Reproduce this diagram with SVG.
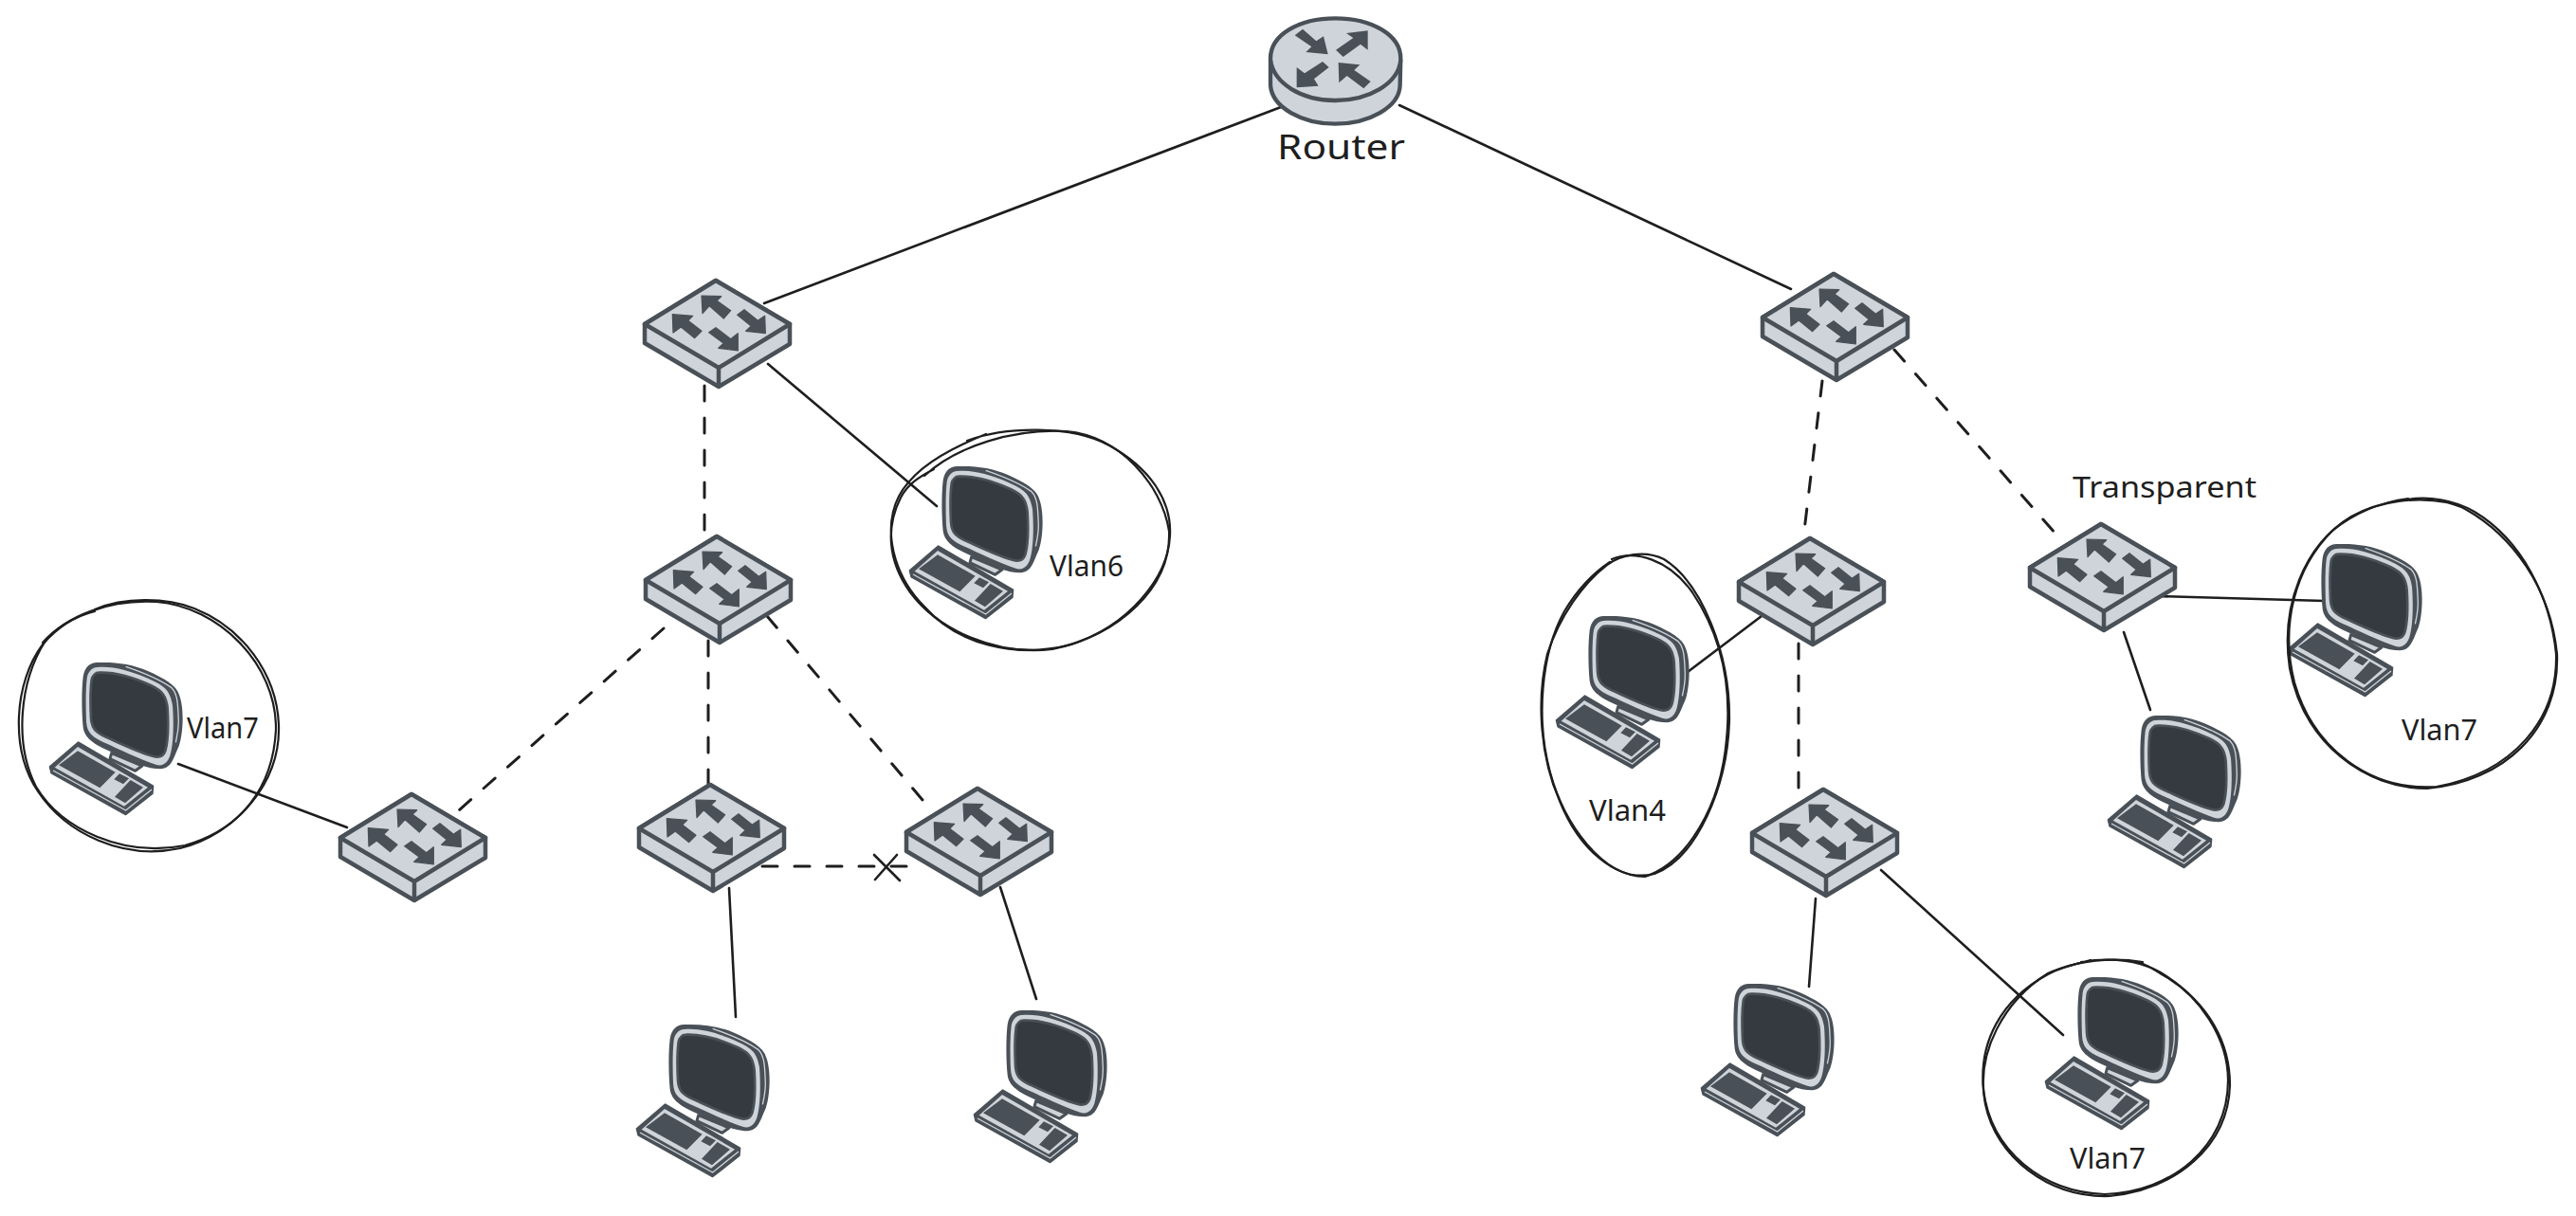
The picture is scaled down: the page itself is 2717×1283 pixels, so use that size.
<svg xmlns="http://www.w3.org/2000/svg" width="2717" height="1283" viewBox="0 0 2717 1283">
<style>
.ln{fill:none;stroke:#1e1e1e;stroke-width:2.6;stroke-linecap:round}
.da{stroke-width:3;stroke-dasharray:16 18}
.sk{fill:none;stroke:#1e1e1e;stroke-width:2.2;stroke-linecap:round}
.lb{font-family:"Noto Sans","Liberation Sans",sans-serif;fill:#1e1e1e;font-size:30px}
.bd{fill:#ced4da;stroke:#495057;stroke-width:4.5;stroke-linejoin:round}
.ar{fill:#495057;stroke:#495057;stroke-width:1.2;stroke-linejoin:round}
</style>
<defs>
<g id="switch">
<path class="bd" d="M75,0L153,46V67L78,112L0,66V46Z"/>
<path class="bd" d="M75,0L153,46L78,92L0,46Z M78,92V112"/>
<polygon class="ar" points="60,16 80.7,16.7 76,21.3 90.7,31.7 83.3,40 68.3,26.7 61,34.7"/>
<polygon class="ar" points="29.3,35.7 50.7,37.3 45.7,42.3 60,53.3 52.7,60.7 38.3,49 30,55"/>
<polygon class="ar" points="105,30.7 119.3,42.3 126.7,37.3 127.3,55.7 106.7,53.3 112.3,48 97.7,36.3"/>
<polygon class="ar" points="75,49.7 90.7,61.7 98.3,55.7 98.3,74 77.7,71.3 83.3,66.3 67.7,54.7"/>
</g>
<g id="computer" transform="scale(.3333) translate(-88,-65)">
<path fill="#ced4da" stroke="#495057" stroke-width="9" stroke-linejoin="round" d="M285,352L280,370L360,408L382,392Z"/>
<path fill="#495057" d="M240,65C300,63 350,70 400,92C450,115 490,135 500,170C515,210 512,290 498,330C480,370 475,400 440,402C400,402 350,380 300,355C240,330 200,310 195,270C190,220 190,150 195,110C200,80 215,66 240,65Z"/>
<path fill="#ced4da" d="M240,80C290,76 340,90 400,115C450,138 470,150 478,200C482,250 482,320 470,360C462,385 445,395 425,388C370,370 310,340 260,318C225,300 207,290 205,250C203,200 203,150 207,115C210,95 222,81 240,80Z"/>
<path fill="#343a40" stroke="#495057" stroke-width="8" d="M245,97C300,95 350,110 410,138C445,155 458,170 462,210C465,260 465,310 455,345C448,365 430,368 410,360C360,345 310,320 265,300C235,285 222,275 220,240C218,200 218,150 222,120C225,105 235,97 245,97Z"/>
<path fill="none" stroke="#ced4da" stroke-width="4" d="M330,78C380,95 440,120 475,145C495,165 495,200 497,250C497,280 492,300 488,318"/>
<path fill="#495057" stroke="#495057" stroke-width="6" stroke-linejoin="round" d="M180,318L416,456L414,480L330,546L95,415L90,395Z"/>
<path fill="#ced4da" d="M178,332L400,460L325,520L105,397Z"/>
<path fill="none" stroke="#ced4da" stroke-width="4" d="M100,407L330,533L412,467"/>
<path fill="#495057" d="M178,345L297,412L248,462L118,390Z M310,417L340,432L322,450L293,435Z M345,437L385,460L328,510L295,490Z"/>
</g>
</defs>
<g id="connectors">
<path class="ln" d="M1351,113L806,320"/>
<path class="ln" d="M1476,111L1889,305"/>
<path class="ln" d="M810,384L988,534"/>
<path class="ln da" d="M743,407V563"/>
<path class="ln da" d="M1922,402L1903,560"/>
<path class="ln da" d="M1998,369L2168,563"/>
<path class="ln da" d="M700,663L484,855"/>
<path class="ln da" d="M747,676V827"/>
<path class="ln da" d="M809,650L973,844"/>
<path class="ln da" d="M804,914H958"/>
<path class="ln" d="M922,902L949,929M946,902L923,928"/>
<path class="ln" d="M188,806L366,873"/>
<path class="ln" d="M769,937L776,1073"/>
<path class="ln" d="M1055,936L1093,1054"/>
<path class="ln" d="M1858,650L1780,709"/>
<path class="ln da" d="M1897,679V835"/>
<path class="ln" d="M1915,948L1908,1041"/>
<path class="ln" d="M1984,918L2176,1092"/>
<path class="ln" d="M2240,667L2268,749"/>
<path class="ln" d="M2275,629L2452,634"/>
</g>
<g id="router" transform="translate(1300,0) scale(.3333)">
<path fill="#ced4da" stroke="#495057" stroke-width="13" stroke-linejoin="round" d="M120,185C120,110 210,58 325,58C440,58 532,110 532,185L530,270C528,340 430,392 325,392C220,392 125,340 120,270Z"/>
<path fill="none" stroke="#495057" stroke-width="13" d="M120,190C130,265 220,318 325,318C430,318 525,265 532,190"/>
<polygon fill="#495057" points="222,92 265,130 288,115 302,172 232,165 250,148 197,112"/>
<polygon fill="#495057" points="360,105 428,97 428,158 405,140 350,180 327,158 382,120"/>
<polygon fill="#495057" points="285,195 305,213 258,250 272,272 203,277 203,213 228,232"/>
<polygon fill="#495057" points="335,198 403,205 385,222 437,258 415,280 362,240 337,262"/>
</g>
<text id="router-label" class="lb" x="1347" y="168" style="font-size:36px" textLength="135" lengthAdjust="spacingAndGlyphs">Router</text>
<g id="switch-1"><use href="#switch" transform="translate(680,296)"/></g>
<g id="switch-2"><use href="#switch" transform="translate(1859,289)"/></g>
<g id="switch-3"><use href="#switch" transform="translate(681,566)"/></g>
<g id="switch-4"><use href="#switch" transform="translate(359,838)"/></g>
<g id="switch-5"><use href="#switch" transform="translate(674,828)"/></g>
<g id="switch-6"><use href="#switch" transform="translate(956,832)"/></g>
<g id="switch-7"><use href="#switch" transform="translate(1834,568)"/></g>
<g id="switch-8"><use href="#switch" transform="translate(2141,553)"/></g>
<g id="switch-9"><use href="#switch" transform="translate(1848,833)"/></g>
<text id="transparent-label" class="lb" x="2186" y="525" textLength="194" lengthAdjust="spacingAndGlyphs">Transparent</text>
<g id="pc-vlan6">
<use href="#computer" transform="translate(959,492)"/>
<path class="sk" d="M1020,465C1060,450 1130,448 1170,470C1215,495 1236,530 1234,565C1232,610 1190,660 1130,680C1070,695 1010,680 975,640C945,610 935,570 942,540C950,505 985,480 1040,458"/>
<path class="sk" d="M975,502C1010,470 1070,452 1125,455C1180,460 1225,510 1233,560C1236,620 1180,670 1110,685C1050,692 990,665 960,625C935,590 935,555 950,525C958,510 970,503 985,495"/>
<text class="lb" x="1107" y="608" textLength="78" lengthAdjust="spacingAndGlyphs">Vlan6</text>
</g>
<g id="pc-vlan7-left">
<use href="#computer" transform="translate(52,699)"/>
<path class="sk" d="M100,643C130,630 175,630 205,642C255,662 292,710 294,765C296,825 250,880 190,895C130,908 70,880 40,835C10,790 15,720 45,680C62,660 80,650 100,645"/>
<path class="sk" d="M45,678C70,650 115,632 165,635C230,640 292,700 291,770C288,830 255,875 195,892C130,905 65,875 38,830C15,785 20,720 48,676"/>
<text class="lb" x="197" y="779" textLength="76" lengthAdjust="spacingAndGlyphs">Vlan7</text>
</g>
<g id="pc-a"><use href="#computer" transform="translate(671,1081)"/></g>
<g id="pc-b"><use href="#computer" transform="translate(1027,1066)"/></g>
<g id="pc-vlan4">
<use href="#computer" transform="translate(1641,650)"/>
<path class="sk" d="M1695,596C1710,585 1735,580 1755,590C1795,615 1825,690 1824,760C1822,830 1790,905 1745,922C1705,932 1665,895 1645,845C1625,800 1620,740 1632,690C1645,650 1670,615 1695,596"/>
<path class="sk" d="M1700,590C1725,580 1760,590 1785,625C1815,670 1827,720 1821,780C1815,850 1780,910 1735,925C1690,925 1650,870 1635,815C1620,760 1625,690 1650,645C1665,620 1680,605 1698,593"/>
<text class="lb" x="1676" y="866" textLength="81" lengthAdjust="spacingAndGlyphs">Vlan4</text>
</g>
<g id="pc-c"><use href="#computer" transform="translate(2223,755)"/></g>
<g id="pc-vlan7-right">
<use href="#computer" transform="translate(2414,574)"/>
<path class="sk" d="M2535,528C2560,522 2590,528 2610,540C2660,570 2690,630 2696,690C2698,760 2650,815 2570,830C2500,835 2440,790 2420,720C2405,660 2420,600 2460,560C2485,540 2510,530 2540,526"/>
<path class="sk" d="M2580,530C2550,524 2510,528 2480,545C2430,575 2405,640 2415,705C2430,785 2495,832 2560,832C2640,825 2700,770 2697,690C2690,620 2650,565 2600,537C2590,532 2585,531 2575,529"/>
<text class="lb" x="2533" y="781" textLength="80" lengthAdjust="spacingAndGlyphs">Vlan7</text>
</g>
<g id="pc-d"><use href="#computer" transform="translate(1794,1038)"/></g>
<g id="pc-vlan7-bottom">
<use href="#computer" transform="translate(2157,1031)"/>
<path class="sk" d="M2195,1015C2225,1010 2260,1012 2285,1030C2330,1060 2352,1100 2352,1145C2350,1210 2295,1255 2225,1262C2160,1264 2105,1220 2094,1165C2083,1110 2115,1055 2160,1027C2175,1020 2190,1017 2205,1013"/>
<path class="sk" d="M2260,1015C2230,1010 2190,1012 2160,1028C2110,1055 2087,1100 2092,1150C2100,1215 2155,1258 2220,1260C2290,1258 2350,1210 2350,1140C2350,1095 2320,1050 2280,1028C2270,1022 2265,1018 2255,1015"/>
<text class="lb" x="2183" y="1233" textLength="80" lengthAdjust="spacingAndGlyphs">Vlan7</text>
</g>
</svg>
